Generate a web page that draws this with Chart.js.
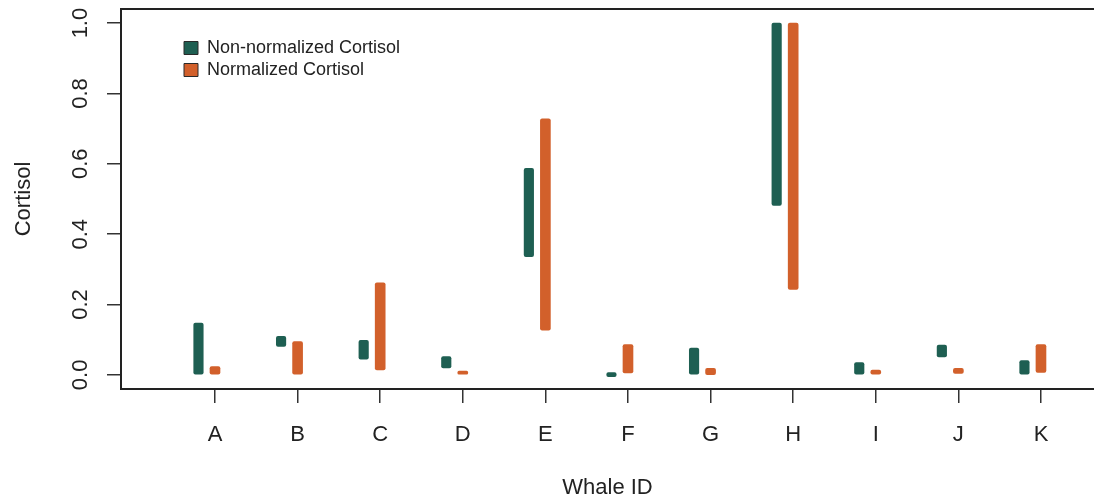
<!DOCTYPE html>
<html>
<head>
<meta charset="utf-8">
<script src="https://cdn.jsdelivr.net/npm/chart.js@4/dist/chart.umd.min.js"></script>
<style>
html,body{margin:0;padding:0;background:#fff;overflow:hidden;}
canvas{display:block;}
</style>
</head>
<body>
<canvas id="c" width="1094" height="501"></canvas>
<script>
// ---- data ----
const categories = ['A','B','C','D','E','F','G','H','I','J','K'];
const seriesNames = ['Non-normalized Cortisol', 'Normalized Cortisol'];
const rawLow   = [0.000, 0.081, 0.045, 0.020, 0.336, -0.005, 0.000, 0.482, 0.000, 0.051, 0.000];
const rawHigh  = [0.147, 0.110, 0.098, 0.052, 0.587,  0.007, 0.076, 1.000, 0.035, 0.085, 0.041];
const normLow  = [0.002, 0.000, 0.014, 0.000, 0.127, 0.006, 0.001, 0.243, 0.000, 0.004, 0.007];
const normHigh = [0.024, 0.095, 0.262, 0.011, 0.728, 0.086, 0.019, 1.000, 0.014, 0.019, 0.086];
const yTicks = [0, 0.2, 0.4, 0.6, 0.8, 1.0];

const GREEN = '#1e5f52';
const ORANGE = '#d2602b';
const FONT = "'Liberation Sans', Arial, Helvetica, sans-serif";

const toPoints = (lo, hi) => categories.map((c, i) => ({x: i + 1, y: [lo[i], hi[i]]}));

const xMin = -0.138, xMax = 11.642, shift = 0.2;

const legendPlacer = {
  id: 'legendPlacer',
  afterLayout(chart) {
    const l = chart.legend;
    if (!l) return;
    const w = l.width, h = l.height;
    l.left = 180; l.top = 35;
    l.right = l.left + w; l.bottom = l.top + h;
  }
};

const noPad = s => { s.paddingTop = 0; s.paddingBottom = 0; s.paddingLeft = 0; s.paddingRight = 0; };

new Chart(document.getElementById('c'), {
  type: 'bar',
  data: {
    datasets: [
      {
        label: seriesNames[0],
        data: toPoints(rawLow, rawHigh),
        backgroundColor: GREEN,
        borderWidth: 0,
        borderRadius: 2,
        borderSkipped: false,
        barThickness: 9.5,
        grouped: false,
        xAxisID: 'xg'
      },
      {
        label: seriesNames[1],
        data: toPoints(normLow, normHigh),
        backgroundColor: ORANGE,
        borderWidth: 0,
        borderRadius: 2,
        borderSkipped: false,
        barThickness: 10,
        grouped: false,
        xAxisID: 'x'
      }
    ]
  },
  plugins: [legendPlacer],
  options: {
    responsive: false,
    animation: false,
    events: [],
    layout: {padding: 0, autoPadding: false},
    plugins: {
      tooltip: {enabled: false},
      legend: {
        position: 'chartArea',
        align: 'start',
        labels: {
          font: {family: FONT, size: 18},
          color: '#222',
          boxWidth: 14,
          boxHeight: 13,
          padding: 4,
          generateLabels(chart) {
            const items = Chart.defaults.plugins.legend.labels.generateLabels(chart);
            items.forEach(it => { it.strokeStyle = '#2a2a2a'; it.lineWidth = 1; });
            return items;
          }
        }
      }
    },
    scales: {
      x: {
        type: 'linear',
        position: 'bottom',
        min: xMin, max: xMax,
        bounds: 'data',
        offset: false,
        afterBuildTicks(scale) { scale.ticks = categories.map((c, i) => ({value: i + 1})); },
        afterFit(scale) { scale.height = 112; noPad(scale); },
        ticks: {
          autoSkip: false, maxRotation: 0, minRotation: 0,
          padding: 19,
          color: '#222',
          font: {family: FONT, size: 22},
          callback: (v, i) => categories[i]
        },
        grid: {offset: false, drawOnChartArea: false, drawTicks: true, tickLength: 14, color: '#333', lineWidth: 1.5},
        border: {display: true, color: '#222', width: 2},
        title: {display: true, text: 'Whale ID', color: '#222', font: {family: FONT, size: 22}, padding: {top: 0, bottom: 0}}
      },
      xg: {
        type: 'linear',
        display: false,
        min: xMin + shift, max: xMax + shift,
        bounds: 'data',
        offset: false
      },
      xTop: {
        type: 'linear',
        position: 'top',
        min: 0, max: 1,
        afterFit(scale) { scale.height = 9; noPad(scale); },
        ticks: {display: false},
        grid: {display: false, drawTicks: false},
        border: {display: true, color: '#222', width: 2}
      },
      y: {
        type: 'linear',
        position: 'left',
        min: -0.04, max: 1.04,
        bounds: 'data',
        beginAtZero: false,
        afterBuildTicks(scale) { scale.ticks = yTicks.map(v => ({value: v})); },
        afterFit(scale) { scale.width = 121; noPad(scale); },
        ticks: {
          minRotation: 90, maxRotation: 90,
          crossAlign: 'center',
          padding: 11,
          color: '#222',
          font: {family: FONT, size: 22},
          callback: v => Number(v).toFixed(1)
        },
        grid: {drawOnChartArea: false, drawTicks: true, tickLength: 14, color: '#333', lineWidth: 1.5},
        border: {display: true, color: '#222', width: 2},
        title: {display: true, text: 'Cortisol', color: '#222', font: {family: FONT, size: 22}, padding: {top: 11, bottom: 0}}
      }
    }
  }
});
</script>
</body>
</html>
